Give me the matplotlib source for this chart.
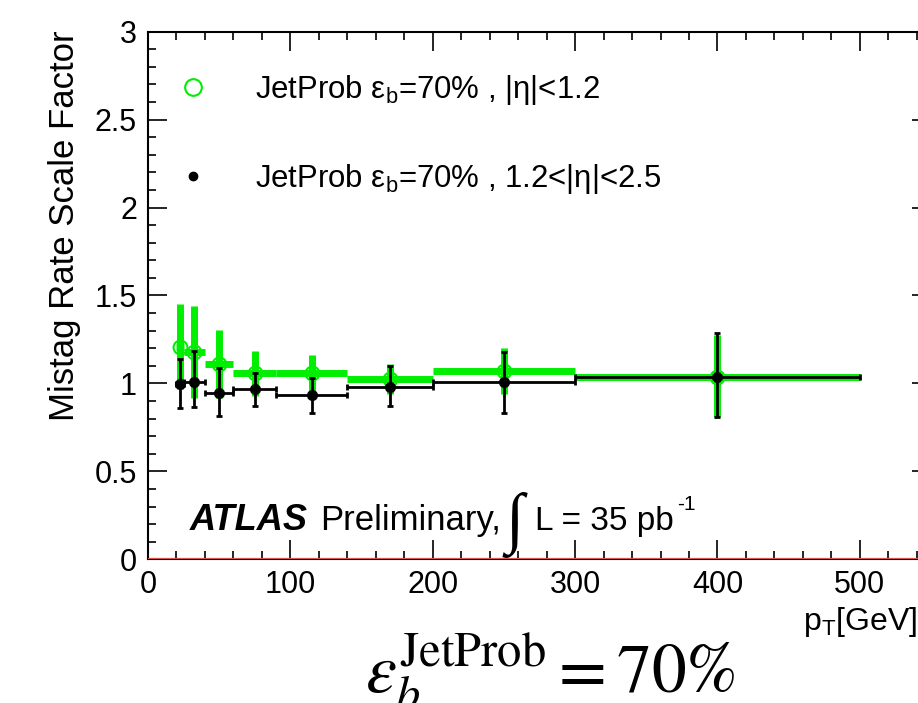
import numpy as np
import matplotlib.pyplot as plt
from matplotlib.lines import Line2D
from matplotlib.ticker import MultipleLocator

plt.rcParams['font.family'] = ['Liberation Sans', 'DejaVu Sans']
plt.rcParams['mathtext.fontset'] = 'custom'
plt.rcParams['mathtext.rm'] = 'Liberation Sans'
plt.rcParams['mathtext.it'] = 'Liberation Sans:italic'
plt.rcParams['mathtext.bf'] = 'Liberation Sans:bold'

# pT bins [GeV]
bin_lo = np.array([20, 25, 40, 60, 90, 140, 200, 300])
bin_hi = np.array([25, 40, 60, 90, 140, 200, 300, 500])
pt = np.array([22.5, 32.5, 50, 75, 115, 170, 250, 400])

# |eta| < 1.2
sf_c = np.array([1.21, 1.18, 1.11, 1.057, 1.057, 1.023, 1.07, 1.038])
sf_c_up = np.array([0.24, 0.26, 0.195, 0.13, 0.105, 0.085, 0.13, 0.24])
sf_c_dn = np.array([0.24, 0.26, 0.195, 0.13, 0.105, 0.085, 0.13, 0.23])

# 1.2 < |eta| < 2.5
sf_f = np.array([0.995, 1.01, 0.947, 0.968, 0.932, 0.981, 1.01, 1.038])
sf_f_up = np.array([0.142, 0.174, 0.139, 0.093, 0.099, 0.118, 0.17, 0.247])
sf_f_dn = np.array([0.137, 0.144, 0.132, 0.095, 0.1, 0.109, 0.177, 0.231])

label_c = r'JetProb $\mathrm{ε}_{\mathrm{b}}$=70% , |η|<1.2'
label_f = r'JetProb $\mathrm{ε}_{\mathrm{b}}$=70% , 1.2<|η|<2.5'

fig = plt.figure(figsize=(9.18, 7.03), dpi=100)
ax = fig.add_axes([148/918, 143.7/703, 783/918, 527.6/703])

green = '#00ee00'
ax.errorbar(pt, sf_c, yerr=[sf_c_dn, sf_c_up], xerr=[pt-bin_lo, bin_hi-pt],
            fmt='o', color=green, mfc='none', mec=green, ms=10, mew=1.5,
            elinewidth=5, capsize=0, zorder=3)
ax.errorbar(pt, sf_f, yerr=[sf_f_dn, sf_f_up], xerr=[pt-bin_lo, bin_hi-pt],
            fmt='o', color='black', ms=7, elinewidth=2, capsize=2, capthick=2,
            zorder=4)
ax.axhline(0, color='#e05050', lw=1.5, zorder=5)

ax.set_xlim(0, 550)
ax.set_ylim(0, 3)
ax.xaxis.set_major_locator(MultipleLocator(100))
ax.xaxis.set_minor_locator(MultipleLocator(20))
ax.yaxis.set_major_locator(MultipleLocator(0.5))
ax.yaxis.set_minor_locator(MultipleLocator(0.1))
ax.set_yticks([0, 0.5, 1, 1.5, 2, 2.5, 3])
ax.set_yticklabels(['0', '0.5', '1', '1.5', '2', '2.5', '3'])
ax.tick_params(which='both', direction='in', top=True, right=True, labelsize=22, width=1.2)
ax.tick_params(which='major', length=14, pad=8)
ax.tick_params(which='minor', length=6)
for s in ax.spines.values():
    s.set_linewidth(1.5)

fig.text(65/918, 1 - 30/703, 'Mistag Rate Scale Factor', rotation=90,
         ha='center', va='top', fontsize=25)
fig.text(803/918, 1 - 630/703, r'p$_{\mathrm{T}}$[GeV]', ha='left', va='baseline', fontsize=23)

handles = [Line2D([], [], ls='none', marker='o', mfc='none', mec=green, ms=12, mew=1.5),
           Line2D([], [], ls='none', marker='o', color='black', ms=6)]
ax.legend(handles, [label_c, label_f], loc='upper left',
          bbox_to_anchor=(177.5/918, 1 - 73/703), bbox_transform=fig.transFigure,
          frameon=False, fontsize=22.4, handlelength=1.0, handletextpad=1.49,
          labelspacing=1.78, borderpad=0, borderaxespad=0)

fig.text(190/918, 1 - 530/703, 'ATLAS', fontsize=26, fontweight='bold', style='italic')
fig.text(320/918, 1 - 530/703, 'Preliminary,', fontsize=25)
fig.text(505/918, 1 - 540/703, '∫', fontsize=48, family=['Liberation Serif', 'DejaVu Serif'])
fig.text(535/918, 1 - 530/703, 'L = 35 pb', fontsize=24)
fig.text(677/918, 1 - 510/703, '-1', fontsize=15)

fig.text(365/918, 1 - 693/703, r'$\varepsilon_b^{\mathrm{JetProb}} = 70\%$',
         fontsize=50, math_fontfamily='stix')

fig.savefig('out.png', dpi=100)
